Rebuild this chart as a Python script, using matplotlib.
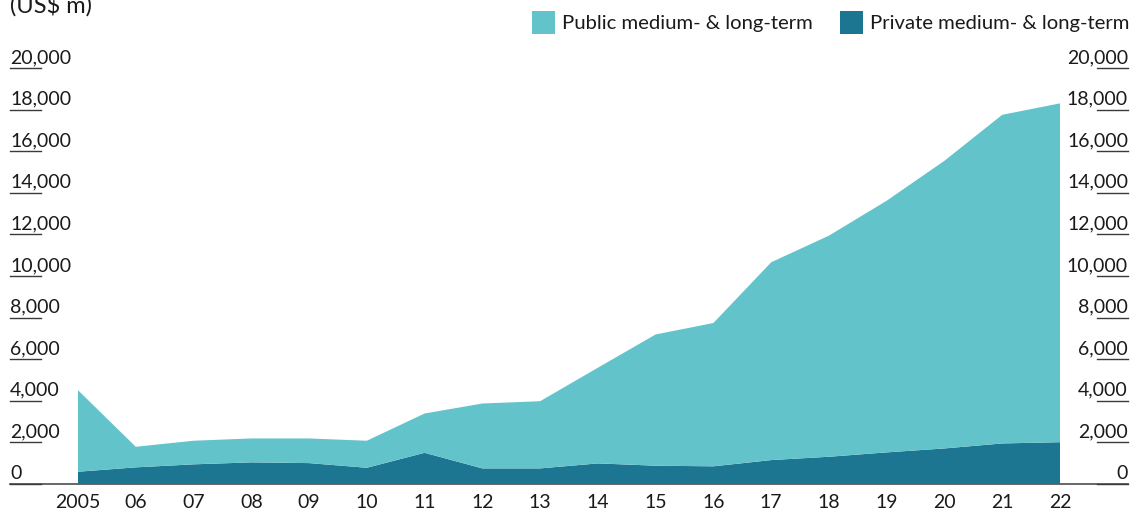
import matplotlib
matplotlib.use("Agg")
import matplotlib.pyplot as plt
import matplotlib.transforms as mtransforms

# External debt stocks, US$ m
years = list(range(2005, 2023))
year_labels = ["2005", "06", "07", "08", "09", "10", "11", "12", "13",
               "14", "15", "16", "17", "18", "19", "20", "21", "22"]
private_mlt = [590, 800, 945, 1040, 1005, 780, 1500, 750, 750,
               990, 880, 850, 1150, 1310, 1520, 1710, 1950, 2010]
public_mlt = [3920, 990, 1135, 1150, 1185, 1300, 1890, 3120, 3230,
              4600, 6310, 6890, 9510, 10630, 12100, 13830, 15800, 16290]
y_ticks = [0, 2000, 4000, 6000, 8000, 10000, 12000, 14000, 16000, 18000, 20000]

LIGHT = "#63c3cb"
DARK = "#1c7691"
TEXT = "#1a1a1a"
FONT = "Lato"

W, H = 1133, 515
fig = plt.figure(figsize=(W / 100, H / 100), dpi=100)

# axes box in pixels: left 10, right 1128, bottom y=484, top y=68
left, right, top, bottom = 10, 1128, 68, 484
ax = fig.add_axes([left / W, 1 - bottom / H, (right - left) / W, (bottom - top) / H])

px_per_year = (1060 - 78) / 17
ax.set_xlim(2005 - (78 - left) / px_per_year, 2022 + (right - 1060) / px_per_year)
ax.set_ylim(0, 20000)
ax.axis("off")

# zero baseline across the full width
ax.axhline(0, color="#4d4d4d", lw=1.2, zorder=1, clip_on=False)

ax.stackplot(years, private_mlt, public_mlt, colors=[DARK, LIGHT],
             linewidth=0, zorder=2)

# y tick marks and labels on both sides
trans = mtransforms.blended_transform_factory(ax.transAxes, ax.transData)
lw_frac = 31 / (right - left)
for v in y_ticks:
    ax.plot([0, lw_frac], [v, v], transform=trans, color="#3a3a3a", lw=1.0,
            clip_on=False, zorder=3)
    ax.plot([1 - lw_frac, 1], [v, v], transform=trans, color="#3a3a3a", lw=1.0,
            clip_on=False, zorder=3)
    lab = f"{v:,}"
    off = mtransforms.offset_copy(trans, fig=fig, y=5, units="dots")
    ax.text(0, v, lab, transform=off, ha="left", va="baseline",
            fontsize=14, family=FONT, color=TEXT)
    ax.text(1, v, lab, transform=off, ha="right", va="baseline",
            fontsize=14, family=FONT, color=TEXT)

# x labels, placed a fixed pixel distance below the baseline
xoff = mtransforms.offset_copy(ax.transData, fig=fig, y=-19, units="dots")
for yr, lab in zip(years, year_labels):
    ax.text(yr, 0, lab, transform=xoff, ha="center", va="center",
            fontsize=14, family=FONT, color=TEXT)

# unit label
fig.text(10 / W, 1 - 13 / H, "(US$ m)", ha="left", va="baseline",
         fontsize=17, family=FONT, color=TEXT)

# legend
def legend_item(x0, color, label):
    fig.patches.append(plt.Rectangle((x0 / W, 1 - 34 / H), 23 / W, 23 / H,
                                     transform=fig.transFigure,
                                     facecolor=color, edgecolor="none"))
    fig.text((x0 + 30) / W, 1 - 23 / H, label, ha="left", va="center",
             fontsize=14.6, family=FONT, color=TEXT)

legend_item(532, LIGHT, "Public medium- & long-term")
legend_item(840, DARK, "Private medium- & long-term")

fig.savefig("out.png", dpi=100)
